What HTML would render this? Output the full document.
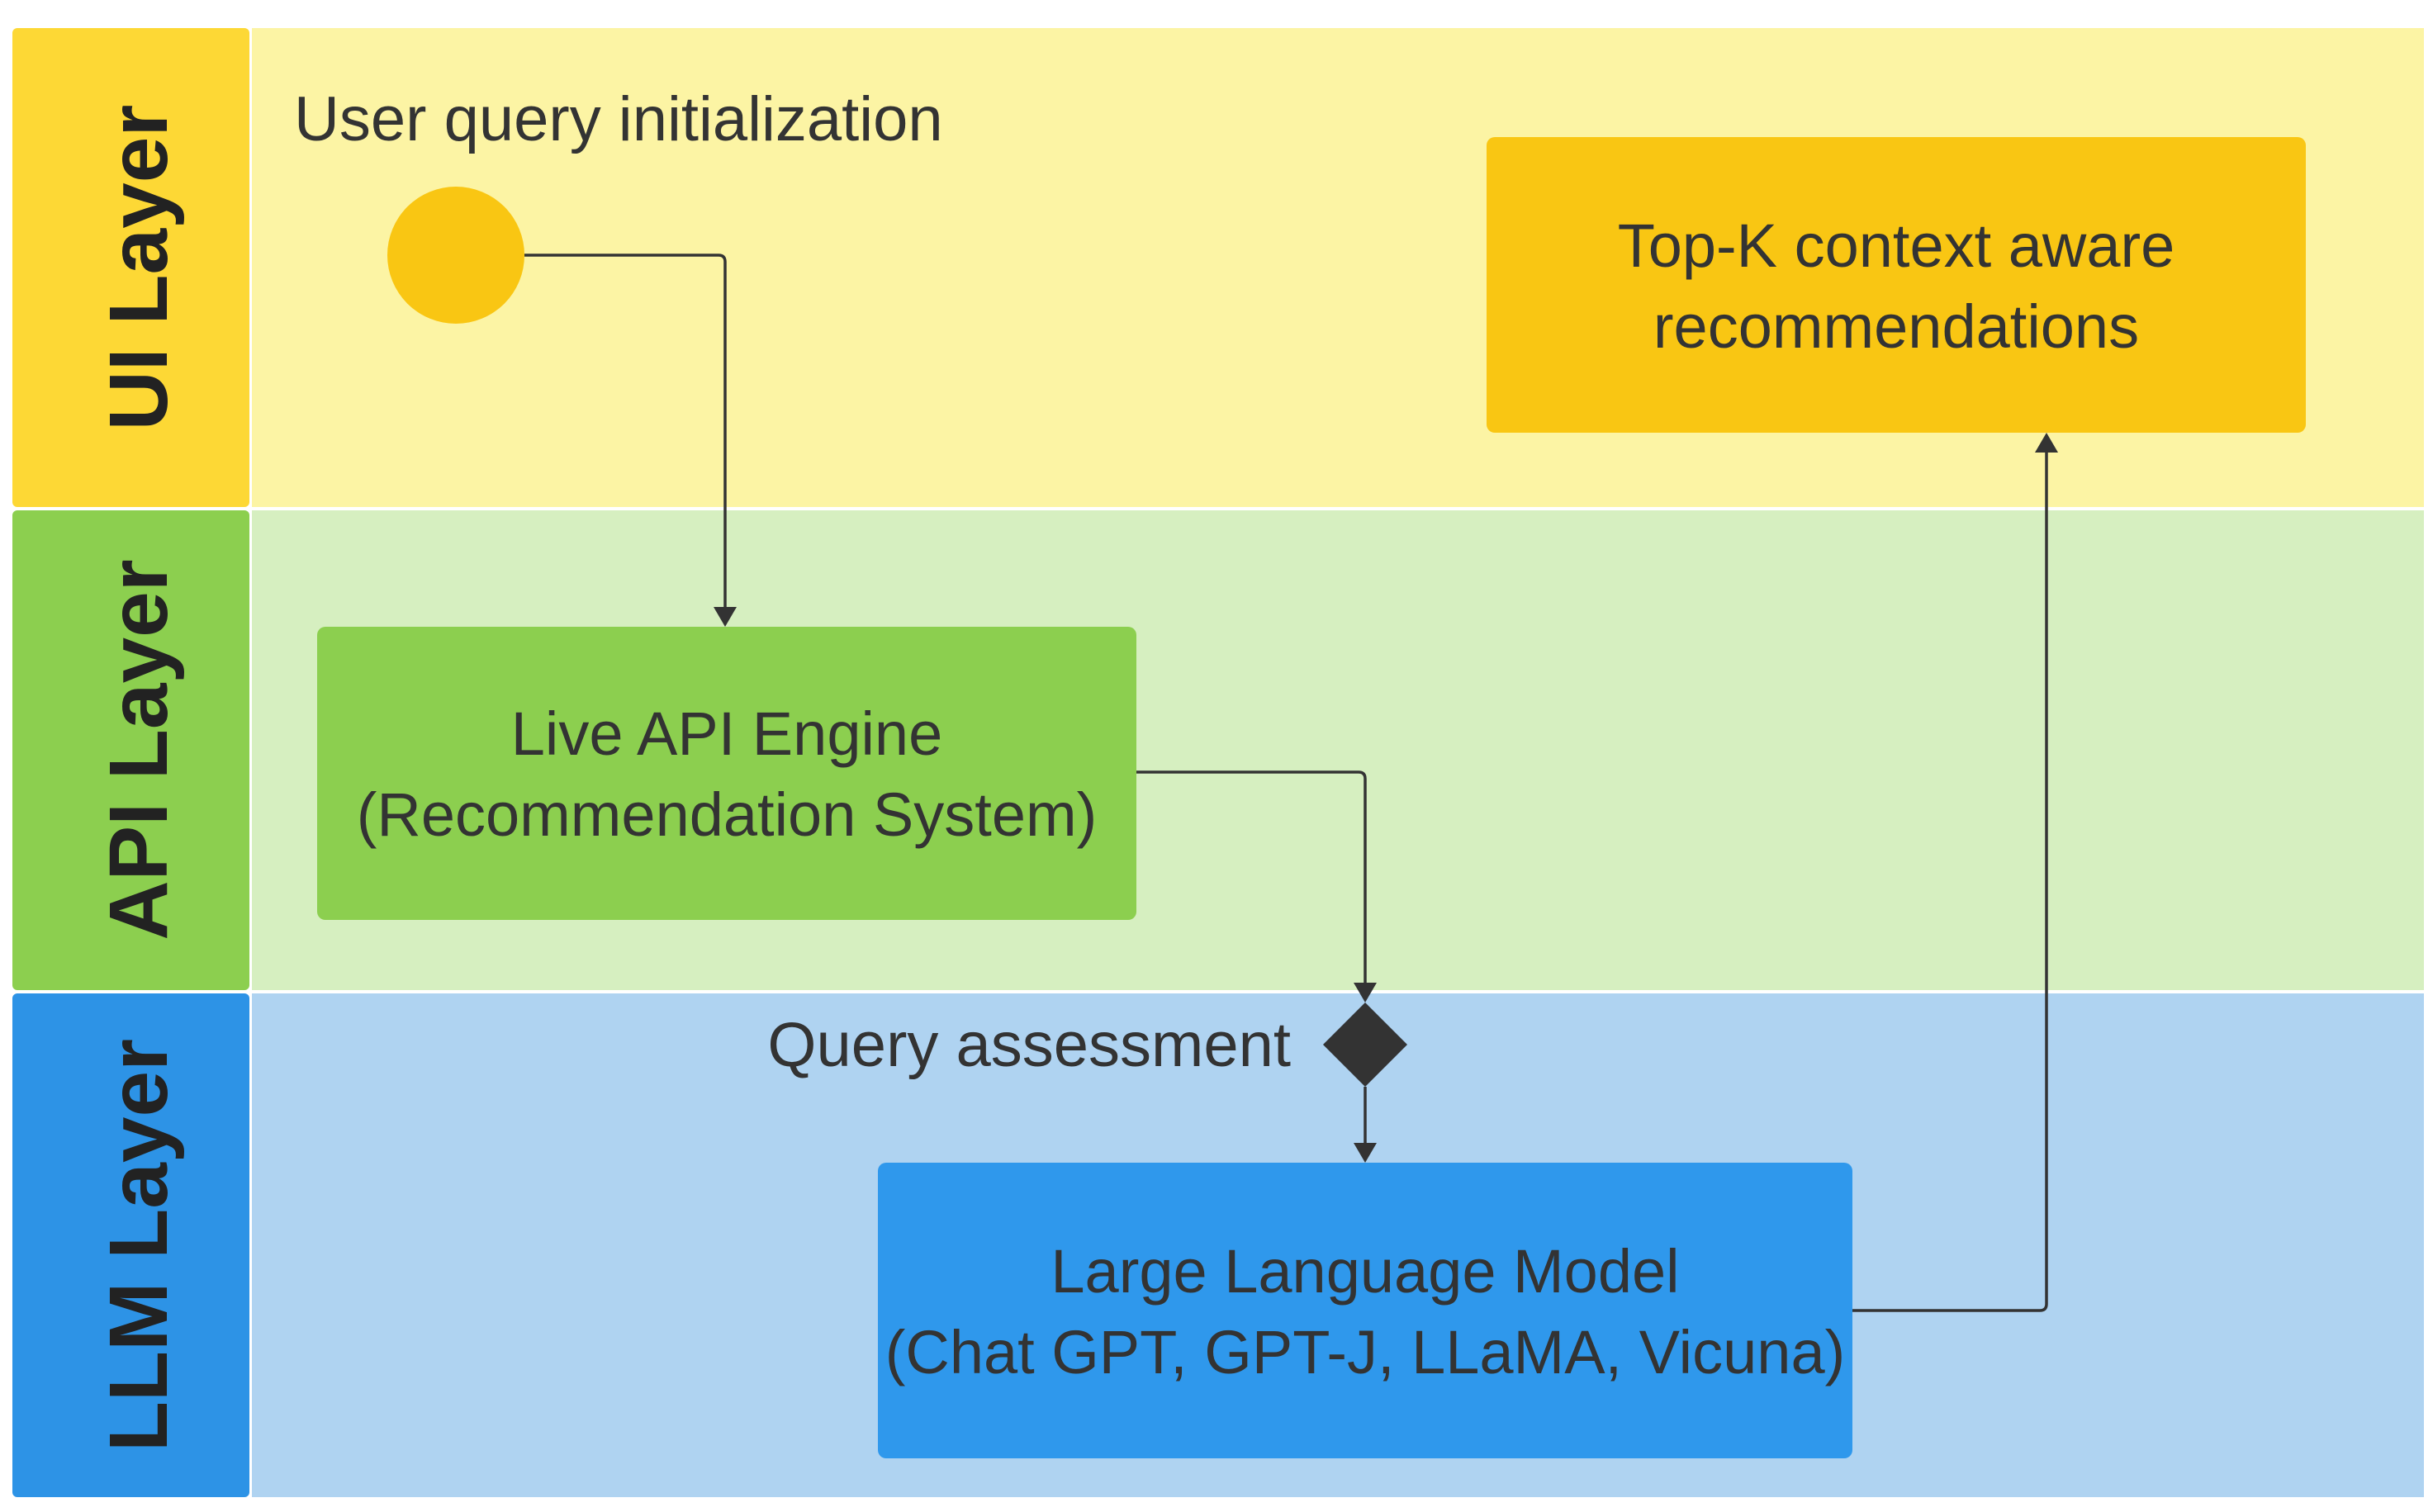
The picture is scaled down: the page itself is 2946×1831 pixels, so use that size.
<!DOCTYPE html>
<html><head><meta charset="utf-8"><style>
html,body{margin:0;padding:0;background:#fff;}
svg{display:block;}
text{font-family:"Liberation Sans",sans-serif;fill:#333;}
</style></head><body>
<svg width="2946" height="1831" viewBox="0 0 2946 1831" xmlns="http://www.w3.org/2000/svg">
<!-- lanes -->
<rect x="305" y="34" width="2630" height="580" fill="#fcf4a4"/>
<rect x="305" y="618" width="2630" height="581" fill="#d6efc0"/>
<rect x="305" y="1203" width="2630" height="610" fill="#afd3f1"/>
<rect x="15" y="34" width="287" height="580" rx="6" fill="#fdd835"/>
<rect x="15" y="618" width="287" height="581" rx="6" fill="#8ccf4f"/>
<rect x="15" y="1203" width="287" height="610" rx="6" fill="#2d93e6"/>
<text transform="translate(202,324) rotate(-90)" text-anchor="middle" font-size="100" font-weight="bold" style="fill:#222">UI Layer</text>
<text transform="translate(202,908) rotate(-90)" text-anchor="middle" font-size="100" font-weight="bold" style="fill:#222">API Layer</text>
<text transform="translate(202,1508) rotate(-90)" text-anchor="middle" font-size="100" font-weight="bold" style="fill:#222">LLM Layer</text>
<!-- nodes -->
<circle cx="552" cy="309" r="83" fill="#f9c613"/>
<text x="356" y="170" font-size="76">User query initialization</text>
<rect x="1800" y="166" width="992" height="358" rx="10" fill="#f9c613"/>
<text x="2296" y="323" font-size="74" text-anchor="middle">Top-K context aware</text>
<text x="2296" y="421" font-size="74" text-anchor="middle">recommendations</text>
<rect x="384" y="759" width="992" height="355" rx="10" fill="#8ccf4f"/>
<text x="880" y="914" font-size="74" text-anchor="middle">Live API Engine</text>
<text x="880" y="1012" font-size="74" text-anchor="middle">(Recommendation System)</text>
<rect x="1063" y="1408" width="1180" height="358" rx="10" fill="#2f98ec"/>
<text x="1653" y="1565" font-size="74" text-anchor="middle">Large Language Model</text>
<text x="1653" y="1663" font-size="74" text-anchor="middle">(Chat GPT, GPT-J, LLaMA, Vicuna)</text>
<polygon points="1653,1214 1704,1265 1653,1316 1602,1265" fill="#333"/>
<text x="1563" y="1291" font-size="76" text-anchor="end">Query assessment</text>
<!-- connectors -->
<g fill="none" stroke="#333" stroke-width="3.5">
<path d="M635 309 H870 Q878 309 878 317 V740"/>
<path d="M1376 935 H1645 Q1653 935 1653 943 V1195"/>
<path d="M1653 1316 V1390"/>
<path d="M2243 1587 H2470 Q2478 1587 2478 1579 V545"/>
</g>
<g fill="#333">
<polygon points="864,735 892,735 878,759"/>
<polygon points="1639,1190 1667,1190 1653,1214"/>
<polygon points="1639,1384 1667,1384 1653,1408"/>
<polygon points="2464,548 2492,548 2478,524"/>
</g>
</svg>
</body></html>
